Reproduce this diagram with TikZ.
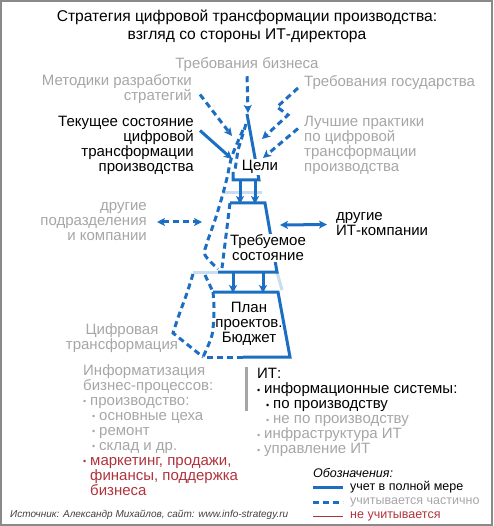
\documentclass[tikz,border=0pt]{standalone}
\usepackage{fontspec}
\setmainfont{Liberation Sans}
\usetikzlibrary{
	arrows.meta,
	positioning
}
\definecolor{itblue}{HTML}{1B6EC2}
\definecolor{itlight}{HTML}{C9DCF0}
\definecolor{itgray}{HTML}{A6A6A6}
\definecolor{itred}{HTML}{B0323C}
\definecolor{itframe}{HTML}{8A8A8A}
\newcommand{\itemdot}{\makebox[7pt][l]{\raisebox{0.5pt}{\fontsize{9}{9}\selectfont•}}}
\tikzset{
	x=1pt,
	y=-1pt,
	full/.style={draw=itblue, line width=3pt},
	part/.style={draw=itblue, line width=3pt, dash pattern=on 6pt off 4pt},
	ghost/.style={draw=itlight, line width=3pt},
	tip/.style={-{Stealth[length=8pt,width=8pt,inset=2pt]}},
	tips/.style={{Stealth[length=8pt,width=8pt,inset=2pt]}-{Stealth[length=8pt,width=8pt,inset=2pt]}},
	btext/.style={inner sep=0pt, font=\fontsize{15}{15}\selectfont, text=black},
	gtext/.style={btext, text=itgray},
	small/.style={inner sep=0pt, font=\fontsize{12.5}{15}\selectfont}
}
\begin{document}
\begin{tikzpicture}
	\useasboundingbox (0,0) rectangle (493,526);
	\draw[itframe, line width=2pt] (1,1) rectangle (492,525);

	% title
	\node[btext, font=\fontsize{15.6}{18}\selectfont, align=center] (title) at (247,26)
		{Стратегия цифровой трансформации производства:\\взгляд со стороны ИТ-директора};

	% shape points
	\coordinate (apex) at (247,114);
	\coordinate (g-r)  at (259,180);
	\coordinate (g-l)  at (233,180);
	\coordinate (t-tl) at (230,203);
	\coordinate (t-tr) at (265,203);
	\coordinate (t-br) at (277,272);
	\coordinate (t-bl) at (218,272);
	\coordinate (p-tl) at (213,292);
	\coordinate (p-tr) at (278,292);
	\coordinate (p-br) at (290,357);
	\coordinate (p-bm) at (243,357);
	\coordinate (p-bl) at (203,357);

	% light lines of the wider levels
	\draw[ghost] (222,193) -- (262,193);
	\draw[ghost] (193,272) -- (t-bl);
	\draw[ghost] (t-br) -- (282,290);

	% goals
	\draw[full] (apex) -- (g-r) -- (g-l) -- (233,172);
	\draw[part] (246,124) -- (238,150) -- (235,170);
	\draw[part] plot[smooth] coordinates {(243,130) (232,156) (227,178) (222,197) (215,220) (207,243) (205,255) (218,269)};

	% target state
	\draw[full] (t-tl) -- (t-tr) -- (t-br) -- (t-bl);
	\draw[part] (t-tl) -- (222,268);
	\draw[part] (205,275) -- (p-tl);

	% plan
	\draw[full] (p-tl) -- (p-tr) -- (p-br) -- (p-bm);
	\draw[part] (p-bm) -- (p-bl);
	\draw[part] plot[smooth] coordinates {(p-tl) (214,310) (212,335) (p-bl)};
	\draw[part] plot[smooth] coordinates {(193,274) (187,293) (179,315) (173,333)} -- (p-bl);

	% arrows between levels
	\draw[full, tip] (240,180) -- (240,204);
	\draw[full, tip] (255,180) -- (255,204);
	\draw[full, tip] (233,272) -- (233,293);
	\draw[full, tip] (263,272) -- (263,293);

	% labels
	\node[gtext] (biz) at (247,65) {Требования бизнеса};
	\node[gtext, anchor=east, align=right] (metod) at (192,89.5) {Методики разработки\\стратегий};
	\node[gtext, anchor=west] (gos) at (304,83) {Требования государства};
	\node[btext, anchor=east, align=right] (cur) at (194,145.5)
		{Текущее состояние\\цифровой\\трансформации\\производства};
	\node[gtext, anchor=west, align=left] (best) at (304,145.5)
		{Лучшие практики\\по цифровой\\трансформации\\производства};
	\node[btext, fill=white, inner sep=1pt] (goal) at (260,167) {Цели};
	\node[gtext, anchor=east, align=right] (dept) at (147,222) {другие\\подразделения\\и компании};
	\node[btext, anchor=west, align=left] (itco) at (336,224.5) {другие\\ИТ-компании};
	\node[btext, fill=white, inner sep=1pt, align=center] (target) at (268,248) {Требуемое\\состояние};
	\node[btext, align=center] (plan) at (249,324) {План\\проектов.\\Бюджет};
	\node[gtext, align=center] (digital) at (122,338.5) {Цифровая\\трансформация};

	% arrow ends
	\coordinate (biz-in)  at (248,113);
	\coordinate (met-in)  at (232,136);
	\coordinate (gos-in)  at (262,139);
	\coordinate (best-in) at (263,158);
	\coordinate (cur-in)  at (232,159);
	\coordinate (dept-in) at (202,222);
	\coordinate (itco-in) at (280,225);

	% inputs to goals
	\draw[part, tip] ([yshift=-4pt]biz.south) -- (biz-in);
	\draw[part, tip] ([xshift=8pt,yshift=-5pt]metod.east) -- (met-in);
	\draw[part, tip] ([xshift=-6pt,yshift=-5pt]gos.west) -- (277,107) -- (288,115) -- (gos-in);
	\draw[part, tip] ([xshift=-6pt,yshift=17pt]best.west) -- (best-in);
	\draw[full, tip] ([xshift=6pt,yshift=15pt]cur.east) -- (cur-in);

	% side links
	\draw[part, tips] ([xshift=10pt]dept.east) -- (dept-in);
	\draw[full, tips] (itco-in) -- ([xshift=-9pt]itco.west);

	% business processes
	\node[gtext, anchor=north west, align=left] (proc) at (83,364)
		{Информатизация\\бизнес-процессов:\\\itemdot производство:\\\hspace*{9pt}\itemdot основные цеха\\\hspace*{9pt}\itemdot ремонт\\\hspace*{9pt}\itemdot склад и др.\\
		\textcolor{itred}{\itemdot маркетинг, продажи,}\\\hspace*{7pt}\textcolor{itred}{финансы, поддержка}\\\hspace*{7pt}\textcolor{itred}{бизнеса}};

	% IT
	\node[btext, anchor=north west, align=left] (it) at (257,368)
		{ИТ:\\\itemdot информационные системы:\\\hspace*{9pt}\itemdot по производству\\
		\hspace*{9pt}\textcolor{itgray}{\itemdot не по производству}\\\textcolor{itgray}{\itemdot инфраструктура ИТ}\\\textcolor{itgray}{\itemdot управление ИТ}};
	\coordinate (bar-a) at (246,367);
	\coordinate (bar-b) at (246,411);
	\draw[itgray, line width=3pt] (bar-a) -- (bar-b);

	% legend
	\node[small, anchor=west, font=\fontsize{12.5}{15}\itshape] (legend) at (313,473) {Обозначения:};
	\coordinate (l1a) at (313,487); \coordinate (l1b) at (343,487);
	\coordinate (l2a) at (313,502); \coordinate (l2b) at (343,502);
	\coordinate (l3a) at (313,516); \coordinate (l3b) at (343,516);
	\draw[full] (l1a) -- (l1b);
	\draw[part] (l2a) -- (l2b);
	\draw[itred, line width=1pt] (l3a) -- (l3b);
	\node[small, right=7pt of l1b] (full-t) {учет в полной мере};
	\node[small, right=7pt of l2b, text=itgray] (part-t) {учитывается частично};
	\node[small, right=7pt of l3b, text=itred] (none-t) {не учитывается};

	% source
	\node[anchor=west, inner sep=0pt, text=black!75, font=\fontsize{10}{12}\itshape] (src) at (10,515)
		{Источник: Александр Михайлов, сайт: www.info-strategy.ru};
\end{tikzpicture}
\end{document}
